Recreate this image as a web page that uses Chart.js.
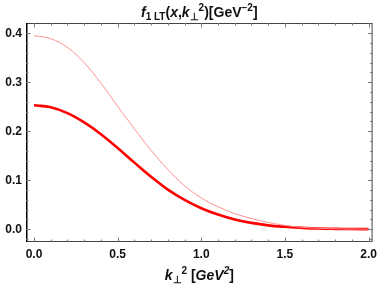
<!DOCTYPE html>
<html>
<head>
<meta charset="utf-8">
<script src="https://cdn.jsdelivr.net/npm/chart.js@4.4.0/dist/chart.umd.min.js"></script>
<style>
  html, body { margin: 0; padding: 0; background: #fff; }
  #wrap { width: 382px; height: 288px; }
</style>
</head>
<body>
<div id="wrap"><canvas id="tmdChart"></canvas></div>
<script>
// k_perp^2 grid (GeV^2) and the two curves
var kPerp2 = [0, 0.1, 0.2, 0.3, 0.4, 0.5, 0.6, 0.7, 0.8, 0.9, 1.0,
              1.1, 1.2, 1.3, 1.4, 1.5, 1.6, 1.7, 1.8, 1.9, 2.0];
var thinCurve = [0.395, 0.389, 0.371, 0.340, 0.298, 0.251, 0.205, 0.161, 0.122, 0.089, 0.064,
                 0.046, 0.032, 0.022, 0.014, 0.008, 0.004, 0.002, 0.001, 0.0005, 0.0002];
var thickCurve = [0.253, 0.249, 0.237, 0.218, 0.194, 0.166, 0.136, 0.107, 0.081, 0.060, 0.043,
                  0.030, 0.020, 0.013, 0.008, 0.005, 0.003, 0.0015, 0.0008, 0.0004, 0.0002];
var xTicks = [0, 0.5, 1.0, 1.5, 2.0];
var yTicks = [0, 0.1, 0.2, 0.3, 0.4];

function toPoints(values) {
  return kPerp2.map(function (k, i) { return { x: k, y: values[i] }; });
}

// draws a line of text made of runs with different fonts / offsets, centred on cx
function drawRuns(ctx, runs, cx, cy) {
  var total = 0;
  runs.forEach(function (r) { ctx.font = r.font; total += ctx.measureText(r.t).width; });
  var x = cx - total / 2;
  ctx.textBaseline = 'alphabetic';
  ctx.textAlign = 'left';
  runs.forEach(function (r) {
    ctx.font = r.font;
    ctx.fillText(r.t, x, cy + (r.dy || 0));
    x += ctx.measureText(r.t).width;
  });
}

var FAM = '"Liberation Sans", Arial, sans-serif';
var big = 'bold 14px ' + FAM, bigI = 'italic bold 14px ' + FAM;
var sm = 'bold 10px ' + FAM, smI = 'italic bold 10px ' + FAM;

var framePlugin = {
  id: 'framePlugin',
  afterDraw: function (chart) {
    var ctx = chart.ctx, a = chart.chartArea;
    var xs = chart.scales.x, ys = chart.scales.y;
    ctx.save();
    // frame
    ctx.strokeStyle = '#444';
    ctx.lineWidth = 1;
    ctx.strokeRect(a.left + 0.5, a.top + 0.5, a.right - a.left - 1, a.bottom - a.top - 1);
    ctx.strokeStyle = '#000';
    ctx.lineWidth = 1.5;
    ctx.beginPath();
    ctx.moveTo(a.left + 0.75, a.top); ctx.lineTo(a.left + 0.75, a.bottom);
    ctx.stroke();

    // inward ticks on all four sides
    ctx.strokeStyle = '#777';
    ctx.lineWidth = 1;
    ctx.beginPath();
    for (var i = -1; i <= 21; i++) {
      var v = i / 10;
      var px = Math.round(xs.getPixelForValue(v)) + 0.5;
      if (px < a.left + 1 || px > a.right - 1) continue;
      var len = (i % 5 === 0) ? 4.5 : 2.5;
      ctx.moveTo(px, a.bottom); ctx.lineTo(px, a.bottom - len);
      ctx.moveTo(px, a.top); ctx.lineTo(px, a.top + len);
    }
    for (var j = -2; j <= 21; j++) {
      var w = j / 50;
      var py = Math.round(ys.getPixelForValue(w)) + 0.5;
      if (py < a.top + 1 || py > a.bottom - 1) continue;
      var l2 = (j % 5 === 0) ? 4.5 : 2.5;
      ctx.moveTo(a.left, py); ctx.lineTo(a.left + l2, py);
      ctx.moveTo(a.right, py); ctx.lineTo(a.right - l2, py);
    }
    ctx.stroke();

    // title and axis label with sub/superscripts
    ctx.fillStyle = '#111';
    var cx = (a.left + a.right) / 2;
    drawRuns(ctx, [
      { t: 'f', font: bigI },
      { t: '1 LT', font: sm, dy: 3 },
      { t: '(', font: big },
      { t: 'x', font: bigI },
      { t: ',', font: big },
      { t: 'k', font: bigI },
      { t: '\u22A5', font: sm, dy: 3 },
      { t: '2', font: sm, dy: -6 },
      { t: ')[GeV', font: big },
      { t: '\u22122', font: sm, dy: -6 },
      { t: ']', font: big }
    ], cx, 17);
    drawRuns(ctx, [
      { t: 'k', font: bigI },
      { t: '\u22A5', font: sm, dy: 3 },
      { t: '2', font: sm, dy: -6 },
      { t: ' [', font: big },
      { t: 'GeV', font: bigI },
      { t: '2', font: smI, dy: -6 },
      { t: ']', font: big }
    ], cx, 280);
    ctx.restore();
  }
};

new Chart(document.getElementById('tmdChart').getContext('2d'), {
  type: 'line',
  data: {
    datasets: [
      {
        label: 'thin',
        data: toPoints(thinCurve),
        borderColor: '#ff9090',
        borderWidth: 1,
        pointRadius: 0,
        tension: 0.4
      },
      {
        label: 'thick',
        data: toPoints(thickCurve),
        borderColor: '#ff0000',
        borderWidth: 2.6,
        pointRadius: 0,
        tension: 0.4
      }
    ]
  },
  options: {
    responsive: true,
    maintainAspectRatio: false,
    animation: false,
    layout: { padding: { top: 23, right: 9, left: 0, bottom: 0 } },
    plugins: { legend: { display: false }, tooltip: { enabled: false } },
    scales: {
      x: {
        type: 'linear',
        min: -0.048,
        max: 2.024,
        afterBuildTicks: function (s) { s.ticks = xTicks.map(function (v) { return { value: v }; }); },
        afterFit: function (s) { s.height = 46; },
        grid: { display: false, drawTicks: false },
        border: { display: false },
        ticks: {
          color: '#111',
          padding: 5,
          maxRotation: 0,
          font: { family: 'Liberation Sans', size: 12, weight: 'bold' },
          callback: function (v) { return v.toFixed(1); }
        }
      },
      y: {
        min: -0.026,
        max: 0.421,
        afterBuildTicks: function (s) { s.ticks = yTicks.map(function (v) { return { value: v }; }); },
        afterFit: function (s) { s.width = 26; },
        grid: { display: false, drawTicks: false },
        border: { display: false },
        ticks: {
          color: '#111',
          padding: 4,
          font: { family: 'Liberation Sans', size: 12, weight: 'bold' },
          callback: function (v) { return v.toFixed(1); }
        }
      }
    }
  },
  plugins: [framePlugin]
});
</script>
</body>
</html>
